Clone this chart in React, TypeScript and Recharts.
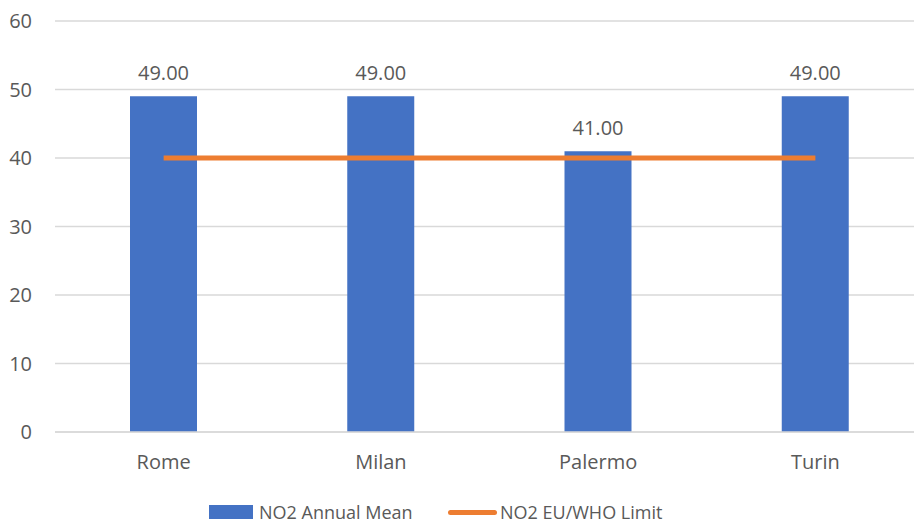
import React from "react";
import {
  ComposedChart,
  Bar,
  Line,
  XAxis,
  YAxis,
  CartesianGrid,
  Legend,
  LabelList,
} from "recharts";

const cities = ["Rome", "Milan", "Palermo", "Turin"];
const annualMean = [49, 49, 41, 49];
const euWhoLimit = [40, 40, 40, 40];
const yTicks = [0, 10, 20, 30, 40, 50, 60];

const data = cities.map((c, i) => ({
  city: c,
  mean: annualMean[i],
  limit: euWhoLimit[i],
}));

const FONT = "'Open Sans', sans-serif";
const TEXT = "#595959";
const BLUE = "#4472C4";
const ORANGE = "#ED7D31";

const itemStyle: React.CSSProperties = {
  position: "absolute",
  top: 16,
  display: "flex",
  alignItems: "center",
  height: 20,
  lineHeight: "20px",
  whiteSpace: "nowrap",
};

const LegendContent = () => (
  <div
    style={{
      position: "relative",
      width: "100%",
      height: 40,
      fontFamily: FONT,
      fontSize: 18,
      color: TEXT,
    }}
  >
    <div style={{ ...itemStyle, left: 209 }}>
      <span style={{ display: "inline-block", width: 44, height: 14, background: BLUE, marginRight: 6 }} />
      <span>NO2 Annual Mean</span>
    </div>
    <div style={{ ...itemStyle, left: 448 }}>
      <span
        style={{
          display: "inline-block",
          width: 49,
          height: 5,
          borderRadius: 3,
          background: ORANGE,
          marginRight: 3,
        }}
      />
      <span>NO2 EU/WHO Limit</span>
    </div>
  </div>
);

export default function App() {
  return (
    <div
      style={{
        position: "absolute",
        left: 0,
        top: 0,
        width: 914,
        height: 526,
        overflow: "hidden",
        background: "#fff",
      }}
    >
      <ComposedChart
        width={930}
        height={526}
        data={data}
        margin={{ top: 21, right: 6, bottom: 0, left: 0 }}
        barCategoryGap="34.5%"
      >
        <CartesianGrid vertical={false} stroke="#D9D9D9" strokeWidth={1.5} />
        <XAxis
          dataKey="city"
          height={54}
          tickLine={false}
          axisLine={{ stroke: "#D9D9D9", strokeWidth: 1.5 }}
          tickSize={0}
          tickMargin={23}
          tick={{ fill: TEXT, fontSize: 20, fontFamily: FONT }}
        />
        <YAxis
          width={55}
          domain={[0, 60]}
          ticks={yTicks}
          tickLine={false}
          axisLine={false}
          tickSize={0}
          tickMargin={23}
          tick={{ fill: TEXT, fontSize: 20, fontFamily: FONT }}
        />
        <Legend verticalAlign="bottom" content={<LegendContent />} />
        <Bar dataKey="mean" fill={BLUE} barSize={67} isAnimationActive={false}>
          <LabelList
            dataKey="mean"
            position="top"
            offset={16}
            formatter={(v: number) => v.toFixed(2)}
            style={{ fill: TEXT, fontSize: 20, fontFamily: FONT }}
          />
        </Bar>
        <Line
          dataKey="limit"
          stroke={ORANGE}
          strokeWidth={5}
          dot={false}
          activeDot={false}
          isAnimationActive={false}
        />
      </ComposedChart>
    </div>
  );
}
